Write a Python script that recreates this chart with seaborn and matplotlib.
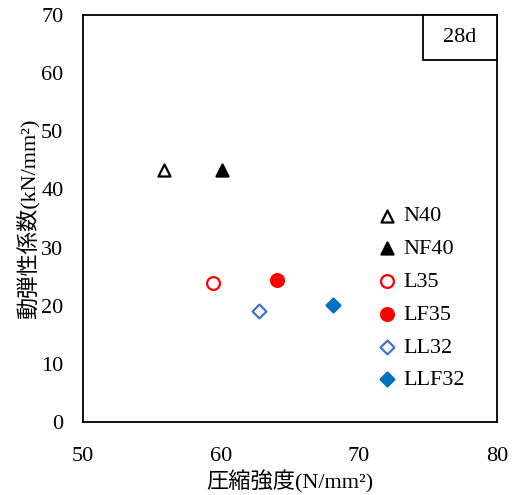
import matplotlib
matplotlib.use("Agg")
import matplotlib.pyplot as plt
import matplotlib.patches as mpatches
import seaborn as sns

# Compressive strength (N/mm2) vs dynamic modulus (kN/mm2) at 28 days
labels = ["N40", "NF40", "L35", "LF35", "LL32", "LLF32"]
strength = [55.9, 60.1, 59.4, 64.1, 62.8, 68.1]
modulus = [43.3, 43.3, 24.0, 24.4, 19.1, 20.2]

markers = ["^", "^", "o", "o", "D", "D"]
faces = ["white", "black", "white", "#FF0000", "white", "#0070C0"]
edges = ["black", "black", "#FF0000", "#FF0000", "#4472C4", "#0070C0"]
sizes = [75, 75, 85, 85, 50, 50]

sns.set_theme(style="white")
plt.rcParams["font.family"] = ["Liberation Serif", "Noto Sans CJK JP"]
plt.rcParams["text.color"] = "black"

fig = plt.figure(figsize=(5.18, 4.95), dpi=100)
ax = fig.add_axes([0.160, 0.147, 0.799, 0.823])

for i, name in enumerate(labels):
    sns.scatterplot(x=[strength[i]], y=[modulus[i]], marker=markers[i], s=sizes[i],
                    facecolor=faces[i], edgecolor=edges[i], linewidth=1.6,
                    label=name, ax=ax, zorder=3)

ax.set_xlim(50, 80)
ax.set_ylim(0, 70)
ax.set_xticks([50, 60, 70, 80])
ax.set_yticks(range(0, 71, 10))
ax.tick_params(length=0, labelsize=16, colors="black")
ax.tick_params(axis="x", pad=18)
ax.tick_params(axis="y", pad=14)
for sp in ax.spines.values():
    sp.set_color("black")
    sp.set_linewidth(1.3)

ax.set_xlabel("圧縮強度(N/mm²)", fontsize=16, color="black", labelpad=3)
ax.set_ylabel("動弾性係数(kN/mm²)", fontsize=16, color="black", labelpad=1)

leg = ax.legend(loc="upper left", bbox_to_anchor=(0.672, 0.553), frameon=False,
                fontsize=16, handletextpad=0.0, labelspacing=0.55,
                borderaxespad=0, handlelength=1.5)
for t in leg.get_texts():
    t.set_color("black")

# Curing age label box in the upper right corner
box = mpatches.Rectangle((0.821, 0.889), 0.179, 0.111, transform=ax.transAxes,
                         facecolor="white", edgecolor="black", linewidth=1.3,
                         zorder=4, clip_on=False)
ax.add_patch(box)
ax.text(0.9105, 0.9445, "28d", transform=ax.transAxes, ha="center", va="center",
        fontsize=16, color="black", zorder=5)

fig.savefig("out.png", dpi=100)
